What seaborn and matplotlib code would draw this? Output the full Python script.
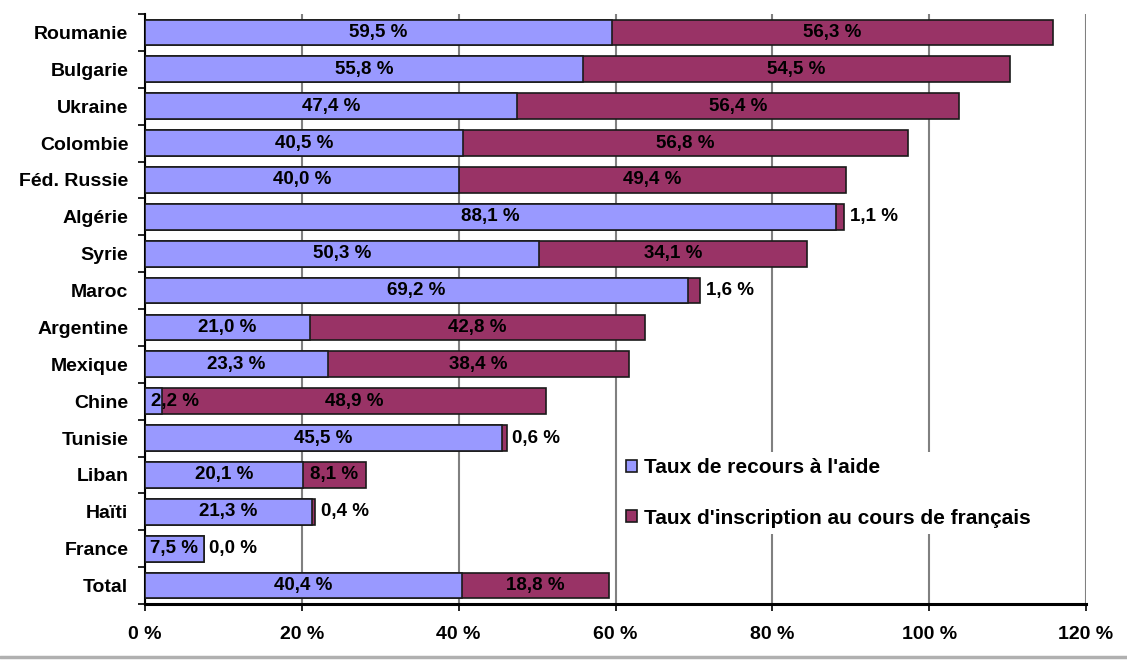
import numpy as np
import pandas as pd
import matplotlib
matplotlib.use("Agg")
import matplotlib.pyplot as plt
from matplotlib.lines import Line2D
from matplotlib.patches import Patch
import seaborn as sns

countries = ["Roumanie", "Bulgarie", "Ukraine", "Colombie", "Féd. Russie", "Algérie",
             "Syrie", "Maroc", "Argentine", "Mexique", "Chine", "Tunisie", "Liban",
             "Haïti", "France", "Total"]
aide = [59.5, 55.8, 47.4, 40.5, 40.0, 88.1, 50.3, 69.2, 21.0, 23.3, 2.2, 45.5, 20.1, 21.3, 7.5, 40.4]
inscription = [56.3, 54.5, 56.4, 56.8, 49.4, 1.1, 34.1, 1.6, 42.8, 38.4, 48.9, 0.6, 8.1, 0.4, 0.0, 18.8]
xticks = [0, 20, 40, 60, 80, 100, 120]
series_names = ["Taux de recours à l'aide", "Taux d'inscription au cours de français"]

BLUE = "#9999FF"
RED = "#993366"

sns.set_theme(style="white")
plt.rcParams["font.family"] = ["Liberation Sans", "DejaVu Sans"]
plt.rcParams["font.weight"] = "bold"
plt.rcParams["text.color"] = "black"
plt.rcParams["xtick.labelcolor"] = "black"
plt.rcParams["ytick.labelcolor"] = "black"

df = pd.DataFrame({"pays": countries, "aide": aide, "inscription": inscription})
df["total"] = df["aide"] + df["inscription"]

fig = plt.figure(figsize=(11.27, 6.61), dpi=100)
ax = fig.add_axes([145 / 1127, 1 - 604 / 661, (1086 - 145) / 1127, (604 - 14) / 661])

sns.barplot(data=df, x="total", y="pays", orient="h", color=RED, saturation=1,
            width=0.7, edgecolor="#1a1a1a", linewidth=1.2, ax=ax, zorder=3)
sns.barplot(data=df, x="aide", y="pays", orient="h", color=BLUE, saturation=1,
            width=0.7, edgecolor="#1a1a1a", linewidth=1.2, ax=ax, zorder=3)

fs = 13.5
for i, (a, r) in enumerate(zip(aide, inscription)):
    lab_a = f"{a:.1f} %".replace(".", ",")
    if a < 5:
        ax.annotate(lab_a, xy=(0, i), xytext=(4, 0), textcoords="offset points",
                    ha="left", va="center", fontsize=fs, fontweight="bold", color="black", zorder=5)
    else:
        ax.text(a / 2, i, lab_a, ha="center", va="center",
                fontsize=fs, fontweight="bold", color="black", zorder=5)
    lab = f"{r:.1f} %".replace(".", ",")
    if r < 5:
        ax.annotate(lab, xy=(a + r, i), xytext=(4, 0), textcoords="offset points",
                    ha="left", va="center", fontsize=fs, fontweight="bold", color="black", zorder=5)
    else:
        ax.text(a + r / 2, i, lab, ha="center", va="center",
                fontsize=fs, fontweight="bold", color="black", zorder=5)

ax.set_xlim(0, 120)
ax.set_ylim(len(countries) - 0.5, -0.5)
ax.set_xticks(xticks)
ax.set_xticklabels([f"{t} %" for t in xticks], fontsize=14, fontweight="bold", color="black")
ax.set_yticks(range(len(countries)))
ax.set_yticklabels(countries, fontsize=14, fontweight="bold", color="black")
ax.set_yticks(np.arange(-0.5, len(countries), 1), minor=True)
ax.tick_params(axis="y", which="major", length=0, pad=12)
ax.tick_params(axis="y", which="minor", length=5, width=1.2, color="black", direction="out", left=True)
ax.tick_params(axis="x", which="major", length=5, width=1.2, color="black", direction="out", bottom=True, pad=11)
ax.set_xlabel("")
ax.set_ylabel("")
ax.grid(axis="x", color="#808080", linewidth=1.5, zorder=0)
ax.set_axisbelow(True)
for s in ["top", "right"]:
    ax.spines[s].set_visible(False)
ax.spines["left"].set_color("black")
ax.spines["left"].set_linewidth(1.5)
ax.spines["bottom"].set_color("black")
ax.spines["bottom"].set_linewidth(2.2)
ax.spines["bottom"].set_zorder(6)

handles = [Patch(facecolor=BLUE, edgecolor="#1a1a1a", linewidth=1.2),
           Patch(facecolor=RED, edgecolor="#1a1a1a", linewidth=1.2)]
leg = ax.legend(handles, series_names, loc="upper left",
                bbox_to_anchor=((620 - 145) / 941, 1 - (452 - 14) / 590),
                frameon=True, facecolor="white", edgecolor="none", framealpha=1,
                prop={"size": 15, "weight": "bold"}, labelspacing=1.5,
                handlelength=0.5, handleheight=0.5, handletextpad=0.35,
                borderpad=0.3, borderaxespad=0, labelcolor="black")
leg.set_zorder(7)

fig.add_artist(Line2D([0, 1], [1 - 657 / 661, 1 - 657 / 661], color="#b0b0b0", linewidth=2.5,
                      transform=fig.transFigure))

fig.savefig("out.png", dpi=100)
